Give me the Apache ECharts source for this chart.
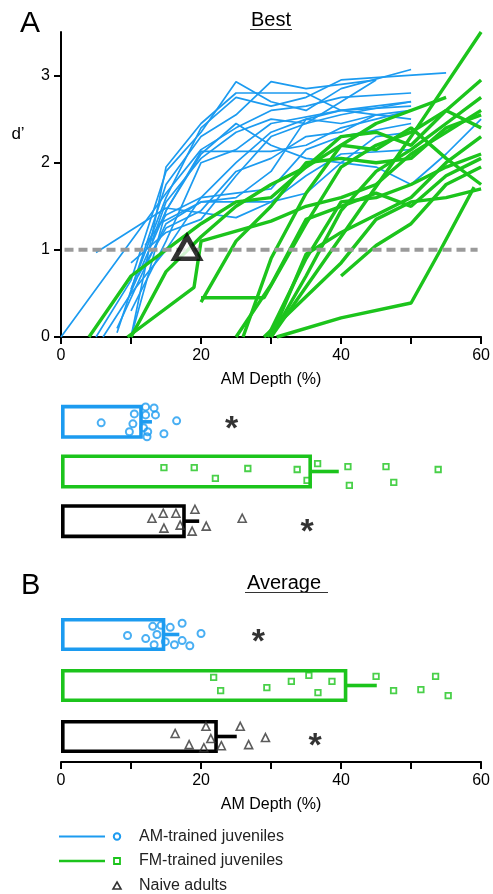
<!DOCTYPE html>
<html><head><meta charset="utf-8">
<script src="https://cdn.jsdelivr.net/npm/echarts@6/dist/echarts.min.js"></script>
<style>html,body{margin:0;padding:0;background:#fff}#c{width:493px;height:894px}</style>
</head><body><div id="c"></div>
<script>
const FONT = 'Liberation Sans, Arial, Helvetica, sans-serif';
const BLUE = '#1c9bf0', GREEN = '#1cc41c', BLACK = '#000000', TRI = '#333333';

// axis ticks
const xTicks = [0, 10, 20, 30, 40, 50, 60];
const xLabels = [0, 20, 40, 60];
const yTicks = [0, 1, 2, 3];

// groups, bottom to top
const groups = ['Naive adults', 'FM-trained juveniles', 'AM-trained juveniles'];
const groupColors = [BLACK, GREEN, BLUE];

// Panel A top: d' psychometric lines (x = AM depth %, y = d')
const amLines = [
  [[0,0],[15,1.65],[20,2.15],[25,2.4],[30,2.6],[35,2.65],[40,2.75],[50,2.8]],
  [[5,0.97],[15,1.48],[25,1.37],[30,1.55],[35,1.85],[40,2.1],[50,2.15]],
  [[5,0],[10,0.65],[15,1.9],[20,2.35],[25,2.93],[30,2.7],[35,2.6],[40,2.85],[50,3.07]],
  [[8,0.05],[15,1.75],[20,2.3],[25,2.55],[30,2.93],[35,2.85],[40,2.9],[45,2.95]],
  [[10,0],[15,1.95],[20,2.45],[25,2.8],[35,2.8],[40,2.6],[50,2.5]],
  [[10,0],[15,1.45],[20,2.1],[25,2.45],[30,2.2],[35,2.05],[45,1.95],[50,1.75],[55,2.1],[60,2.5]],
  [[9.8,0.48],[15,1.45],[20,2.13],[30,2.13],[35,2.2],[40,2.4],[50,2.6]],
  [[10,0.85],[15,1.2],[20,1.35],[25,1.85],[30,2.3],[35,2.45],[40,2.55],[50,2.7]],
  [[12,1.05],[15,1.4],[20,1.6],[25,1.65],[30,1.7],[35,2.15],[40,2.3],[50,2.45]],
  [[8,0.1],[12,0.8],[15,1.3],[20,1.55],[30,1.55],[35,1.65],[40,2.0],[45,2.3],[50,2.35]],
  [[10,0.55],[15,1.6],[20,2.4],[25,2.75],[30,2.65],[35,2.75],[40,2.95],[55,3.03]],
  [[11,0.7],[15,1.25],[20,1.45],[25,1.9],[30,2.05],[35,2.3],[40,2.35],[45,2.55],[50,2.6]],
  [[13,1.1],[15,1.55],[20,2.05],[25,2.35],[30,2.5],[35,2.45],[40,2.7],[45,2.95]],
  [[6,0],[10,0.5],[15,1.0],[20,1.6],[25,2.0],[30,2.35],[35,2.5],[40,2.6],[50,2.65]],
  [[10,0.3],[15,1.1],[20,2.0],[25,2.15],[30,2.45],[40,2.6],[50,2.7]],
  [[14,1.3],[20,1.55],[25,1.6],[30,1.9],[35,2.5],[40,2.45],[45,2.55]]
];
const fmLines = [
  [[4,0],[10,0.7],[15,1.0],[20,1.3],[25,1.55],[30,1.6],[35,1.95],[40,2.2],[45,2.45],[55,2.75]],
  [[9.5,0],[19,0.57],[20,1.1],[30,1.33],[35,1.5],[40,1.6],[45,1.75],[50,2.1],[55,2.35],[60,2.6]],
  [[10,0],[15,0.75],[20,1.15],[25,1.5],[30,1.75],[35,1.95],[40,2.3],[45,2.35],[50,2.2],[55,2.6],[60,2.95]],
  [[20,0.45],[29,0.45],[35,1.3],[40,1.95],[45,2.2],[50,2.35],[55,2.6],[60,2.4]],
  [[20,0.4],[25,1.1],[30,1.5],[35,2.0],[40,2.05],[45,2.0],[50,2.05],[55,2.4],[60,2.55]],
  [[26,0],[30,0.9],[35,1.65],[40,2.2],[45,2.15],[50,2.4],[55,2.05],[60,1.75]],
  [[29,0],[40,0.85],[45,1.35],[50,1.55],[55,1.6],[60,1.7]],
  [[30.8,0],[40,0.22],[50,0.39],[54,0.97],[59,1.72]],
  [[30,0],[35,0.7],[40,1.45],[45,1.9],[50,2.15],[55,2.45],[60,2.75]],
  [[30,0],[40,1.15],[50,2.3],[60,3.5]],
  [[29.5,0],[35,0.9],[40,1.55],[45,1.6],[50,1.75],[55,1.95],[60,2.1]],
  [[40,0.7],[45,1.05],[50,1.3],[55,1.75],[60,1.95]],
  [[30,0],[35,0.95],[40,1.2],[45,1.4],[50,1.6],[55,2.0],[60,2.3]],
  [[25,0],[30,0.6],[35,1.35],[40,1.5],[45,1.65],[50,1.5],[55,1.85],[60,2.05]]
];
const criterion = [[0.5,1],[59.5,1]];
const adultBest = [[18,1]];

// Bar panels: mean thresholds and mean+SEM (order: Naive, FM, AM)
const bestMeans = [17.7, 35.6, 11.6];
const bestSemEnd = [19.6, 39.4, 12.9];
const avgMeans = [22.4, 40.9, 14.9];
const avgSemEnd = [25.1, 45.1, 16.9];

// individual thresholds [value, vertical jitter within band]
const amBest = [[5.7,-0.02],[10.4,0.16],[12,0.3],[13.2,0.28],[13.4,0.14],[12,0.14],[10.2,-0.04],[11.7,-0.12],[12.3,-0.2],[9.7,-0.2],[12.2,-0.3],[14.6,-0.24],[16.4,0.02]];
const fmBest = [[14.6,0.08],[18.9,0.08],[21.9,-0.14],[26.5,0.06],[33.5,0.04],[34.9,-0.18],[36.4,0.16],[40.7,0.1],[40.9,-0.28],[46.1,0.1],[47.2,-0.22],[53.5,0.04]];
const naiveBest = [[12.9,0.06],[14.5,0.16],[16.3,0.16],[14.6,-0.14],[16.9,-0.08],[19,0.24],[18.6,-0.2],[20.6,-0.1],[25.7,0.06]];
const amAvg = [[9.5,-0.02],[12.1,-0.08],[13.1,0.16],[13.7,0],[14.3,0.18],[13.3,-0.2],[14.9,-0.14],[15.6,0.14],[16.2,-0.2],[17.3,0.22],[17.3,-0.12],[18.4,-0.22],[20,0.02]];
const fmAvg = [[21.8,0.16],[22.8,-0.1],[29.4,-0.04],[32.9,0.08],[35.4,0.2],[36.7,-0.14],[38.7,0.08],[45,0.18],[47.5,-0.1],[51.4,-0.08],[53.5,0.18],[55.3,-0.2]];
const naiveAvg = [[16.3,0.06],[18.3,-0.16],[20.7,0.2],[20.4,-0.22],[21.4,-0.04],[22.9,-0.18],[25.6,0.2],[26.8,-0.16],[29.2,-0.02]];

// significance stars [x, group position]
const bestStars = [[24.2,2],[34.9,-0.06]];
const avgStars = [[28.2,2],[36.3,-0.04]];

const chart = echarts.init(document.getElementById('c'), null, {renderer: 'canvas'});

const axisLineStyle = {color: '#000', width: 2};
function valueX(gridIndex, named) {
  return {
    type: 'value', gridIndex, min: 0, max: 60, interval: 10,
    show: true,
    axisLine: {show: named, onZero: false, lineStyle: axisLineStyle},
    axisTick: {show: named, customValues: xTicks, length: 7, lineStyle: {color: '#000', width: 2}},
    axisLabel: {show: named, customValues: xLabels, fontSize: 16, color: '#000', fontFamily: FONT, margin: 11},
    splitLine: {show: false},
    name: named ? 'AM Depth (%)' : '', nameLocation: 'middle', nameGap: 35,
    nameTextStyle: {fontSize: 16, color: '#000', fontFamily: FONT}
  };
}
const hiddenCat = (gi) => ({type: 'category', gridIndex: gi, data: groups, show: false});
const hiddenVal = (gi) => ({type: 'value', gridIndex: gi, min: -0.5, max: 2.5, show: false});

const series = [];
amLines.forEach(d => series.push({type: 'line', xAxisIndex: 0, yAxisIndex: 0, data: d, showSymbol: false, symbol: 'none',
  lineStyle: {color: BLUE, width: 1.7}, z: 2, silent: true}));
fmLines.forEach(d => series.push({type: 'line', xAxisIndex: 0, yAxisIndex: 0, data: d, showSymbol: false, symbol: 'none',
  lineStyle: {color: GREEN, width: 3.4}, z: 3, silent: true}));
series.push({type: 'line', xAxisIndex: 0, yAxisIndex: 0, data: criterion, symbol: 'none',
  lineStyle: {color: '#9a9a9a', width: 4, type: [9, 5]}, z: 4, silent: true});
series.push({type: 'scatter', xAxisIndex: 0, yAxisIndex: 0, data: adultBest, symbol: 'triangle', symbolSize: [25, 22], symbolOffset: [0, -2],
  itemStyle: {color: '#fff', borderColor: '#000', borderWidth: 4.8}, z: 6, silent: true});

function barPanel(xi, catYi, valYi, means, ends, pts, stars, barW) {
  series.push({type: 'bar', xAxisIndex: xi, yAxisIndex: catYi, barWidth: barW, z: 2, silent: true,
    data: means.map((v, i) => ({value: v, itemStyle: {color: 'rgba(255,255,255,0)', borderColor: groupColors[i], borderWidth: 3.6}}))});
  series.push({type: 'custom', xAxisIndex: xi, yAxisIndex: valYi, z: 3, silent: true,
    data: means.map((v, i) => [v, ends[i], i]),
    encode: {x: [0, 1], y: 2},
    renderItem: (params, api) => {
      const g = api.value(2);
      const p1 = api.coord([api.value(0), g]);
      const p2 = api.coord([api.value(1), g]);
      return {type: 'line', shape: {x1: p1[0] - 1.5, y1: p1[1], x2: p2[0], y2: p2[1]},
        style: {stroke: groupColors[g], lineWidth: 3.6}};
    }});
  const symDefs = [
    {sym: 'triangle', size: 8, color: TRI, bw: 1.6},
    {sym: 'rect', size: 5.5, color: GREEN, bw: 1.8},
    {sym: 'circle', size: 7, color: BLUE, bw: 2}
  ];
  pts.forEach((arr, g) => {
    const s = symDefs[g];
    series.push({type: 'scatter', xAxisIndex: xi, yAxisIndex: valYi, z: 5, silent: true,
      data: arr.map(p => [p[0], g + p[1]]), symbol: s.sym, symbolSize: s.size,
      itemStyle: {color: 'rgba(255,255,255,0)', borderColor: s.color, borderWidth: s.bw}});
  });
  series.push({type: 'scatter', xAxisIndex: xi, yAxisIndex: valYi, z: 6, silent: true,
    data: stars, symbol: 'circle', symbolSize: 1, itemStyle: {color: 'rgba(0,0,0,0)'},
    label: {show: true, formatter: '*', position: 'inside', offset: [0, 8], fontSize: 34, fontWeight: 'bold', color: '#000', fontFamily: FONT}});
}

const option = {
  animation: false,
  backgroundColor: '#fff',
  textStyle: {fontFamily: FONT},
  grid: [
    {left: 61, top: 32, width: 423, height: 305},
    {left: 61, top: 397, width: 423, height: 149},
    {left: 61, top: 609, width: 423, height: 153}
  ],
  xAxis: [valueX(0, true), valueX(1, false), valueX(2, true)],
  yAxis: [
    {type: 'value', gridIndex: 0, min: 0, max: 3.5, interval: 1,
      axisLine: {show: true, onZero: false, lineStyle: axisLineStyle},
      axisTick: {show: true, customValues: yTicks, length: 7, lineStyle: {color: '#000', width: 2}},
      axisLabel: {customValues: yTicks, fontSize: 16, color: '#000', fontFamily: FONT, margin: 11},
      splitLine: {show: false}},
    hiddenCat(1), hiddenVal(1),
    hiddenCat(2), hiddenVal(2)
  ],
  series: series,
  graphic: [
    {type: 'text', left: 20, top: 9, style: {text: 'A', fontSize: 30, fontFamily: FONT, fill: '#000'}},
    {type: 'text', left: 21, top: 571, style: {text: 'B', fontSize: 29, fontFamily: FONT, fill: '#000'}},
    {type: 'text', x: 271, y: 20, style: {text: 'Best', fontSize: 20, fontFamily: FONT, fill: '#000', align: 'center', verticalAlign: 'middle'}},
    {type: 'line', shape: {x1: 250, y1: 29.5, x2: 292, y2: 29.5}, style: {stroke: '#333', lineWidth: 1.2}},
    {type: 'text', x: 284, y: 583, style: {text: 'Average', fontSize: 20, fontFamily: FONT, fill: '#000', align: 'center', verticalAlign: 'middle'}},
    {type: 'line', shape: {x1: 245, y1: 592.5, x2: 328, y2: 592.5}, style: {stroke: '#333', lineWidth: 1.2}},
    {type: 'text', x: 18, y: 134, style: {text: 'd\u2019', fontSize: 17, fontFamily: FONT, fill: '#000', align: 'center', verticalAlign: 'middle'}},
    // legend
    {type: 'line', shape: {x1: 59, y1: 836.5, x2: 105, y2: 836.5}, style: {stroke: BLUE, lineWidth: 2}},
    {type: 'circle', shape: {cx: 117, cy: 836.5, r: 3.2}, style: {stroke: BLUE, fill: '#fff', lineWidth: 2}},
    {type: 'text', x: 139, y: 837, style: {text: 'AM-trained juveniles', fontSize: 16, fontFamily: FONT, fill: '#222', verticalAlign: 'middle'}},
    {type: 'line', shape: {x1: 59, y1: 861, x2: 105, y2: 861}, style: {stroke: GREEN, lineWidth: 2.5}},
    {type: 'rect', shape: {x: 114, y: 858, width: 6, height: 6}, style: {stroke: GREEN, fill: '#fff', lineWidth: 1.8}},
    {type: 'text', x: 139, y: 861, style: {text: 'FM-trained juveniles', fontSize: 16, fontFamily: FONT, fill: '#222', verticalAlign: 'middle'}},
    {type: 'polygon', shape: {points: [[117, 882], [121, 889], [113, 889]]}, style: {stroke: TRI, fill: '#fff', lineWidth: 1.6}},
    {type: 'text', x: 139, y: 886, style: {text: 'Naive adults', fontSize: 16, fontFamily: FONT, fill: '#222', verticalAlign: 'middle'}}
  ]
};

barPanel(1, 1, 2, bestMeans, bestSemEnd, [naiveBest, fmBest, amBest], bestStars, 34);
barPanel(2, 3, 4, avgMeans, avgSemEnd, [naiveAvg, fmAvg, amAvg], avgStars, 33);

chart.setOption(option);
</script>
</body></html>
